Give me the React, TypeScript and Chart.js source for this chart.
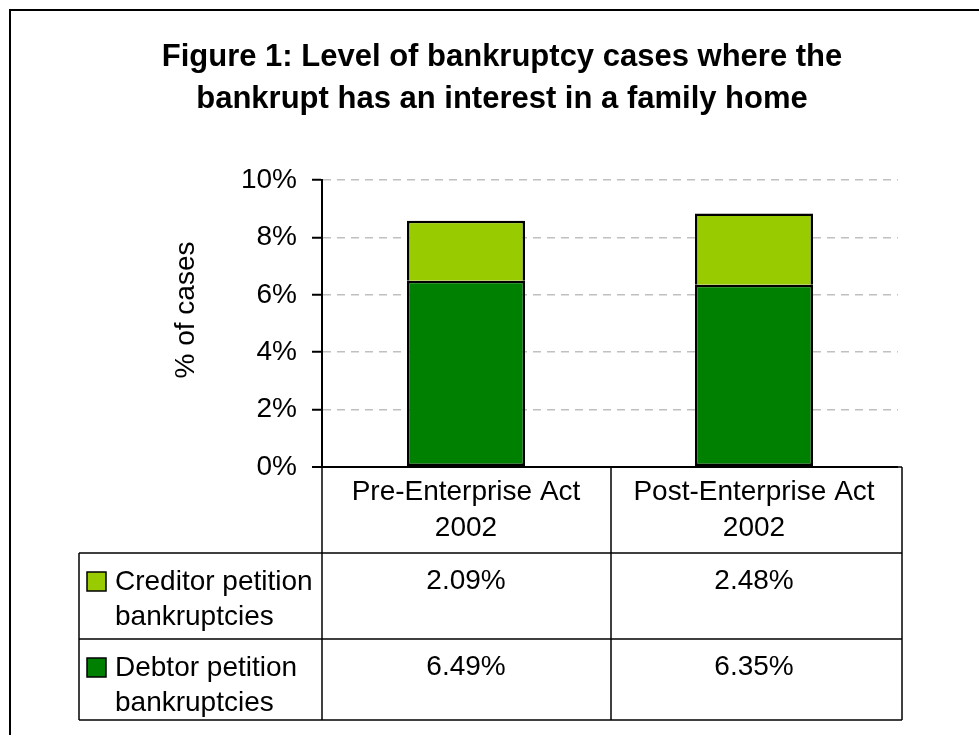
import React, { useEffect, useRef } from "react";
import { Chart, registerables } from "chart.js";

Chart.register(...registerables);

const categories = [
  ["Pre-Enterprise Act", "2002"],
  ["Post-Enterprise Act", "2002"],
];
const creditorName = ["Creditor petition", "bankruptcies"];
const debtorName = ["Debtor petition", "bankruptcies"];
const creditorValues = [2.09, 2.48];
const debtorValues = [6.49, 6.35];
const yMin = 0;
const yMax = 10;
const yStep = 2;
const titleLines = [
  "Figure 1: Level of bankruptcy cases where the",
  "bankrupt has an interest in a family home",
];
const yAxisTitle = "% of cases";

const LIGHT = "#99CC00";
const DARK = "#008000";
const FONT = '"Liberation Sans", Arial, Helvetica, sans-serif';

const tablePlugin = {
  id: "tablePlugin",
  afterDraw(chart: any) {
    const { ctx, chartArea: ca, scales } = chart;
    const x = scales.x;
    const y = scales.y;
    ctx.save();

    // outer frame
    ctx.strokeStyle = "#000";
    ctx.lineWidth = 2;
    ctx.strokeRect(10, 10, 2000, 2000);

    // title
    ctx.fillStyle = "#000";
    ctx.textAlign = "center";
    ctx.textBaseline = "middle";
    ctx.font = `bold 31px ${FONT}`;
    titleLines.forEach((t, i) => ctx.fillText(t, 502, 57 + i * 42));

    // y axis title
    ctx.save();
    ctx.translate(186, 310);
    ctx.rotate(-Math.PI / 2);
    ctx.font = `28px ${FONT}`;
    ctx.fillText(yAxisTitle, 0, 0);
    ctx.restore();

    // data table
    const base = y.getPixelForValue(0);
    const colLeft = 79;
    const c0 = ca.left;
    const c1 = (x.getPixelForValue(0) + x.getPixelForValue(1)) / 2 + 1;
    const c2 = ca.right + 4;
    const r0 = base;
    const r1 = base + 86;
    const r2 = r1 + 86;
    const r3 = r2 + 81;

    ctx.strokeStyle = "#000";
    ctx.lineWidth = 1.5;
    const line = (x1: number, y1: number, x2: number, y2: number) => {
      ctx.beginPath();
      ctx.moveTo(x1, y1);
      ctx.lineTo(x2, y2);
      ctx.stroke();
    };
    line(c0, r0, c0, r3);
    line(c1, r0, c1, r3);
    line(c2, r0, c2, r3);
    line(colLeft, r1, colLeft, r3);
    line(c0, r0, c2, r0);
    line(colLeft, r1, c2, r1);
    line(colLeft, r2, c2, r2);
    line(colLeft, r3, c2, r3);

    ctx.font = `28px ${FONT}`;
    ctx.fillStyle = "#000";
    ctx.textAlign = "center";
    categories.forEach((lines, i) => {
      const cx = x.getPixelForValue(i);
      lines.forEach((l, j) => ctx.fillText(l, cx, r0 + 25 + j * 36));
    });

    const rows = [
      { name: creditorName, values: creditorValues, color: LIGHT, top: r1 },
      { name: debtorName, values: debtorValues, color: DARK, top: r2 },
    ];
    rows.forEach((row) => {
      ctx.textAlign = "center";
      row.values.forEach((v, i) => {
        ctx.fillText(v.toFixed(2) + "%", x.getPixelForValue(i), row.top + 28);
      });
      ctx.fillStyle = row.color;
      ctx.fillRect(87, row.top + 19, 19, 19);
      ctx.strokeStyle = "#000";
      ctx.lineWidth = 1.5;
      ctx.strokeRect(87, row.top + 19, 19, 19);
      ctx.fillStyle = "#000";
      ctx.textAlign = "left";
      row.name.forEach((l, j) => ctx.fillText(l, 115, row.top + 29 + j * 35));
    });

    ctx.restore();
  },
};

export default function App() {
  const ref = useRef<HTMLCanvasElement>(null);

  useEffect(() => {
    if (!ref.current) return;
    const chart = new Chart(ref.current, {
      type: "bar",
      data: {
        labels: categories.map((c) => c.join(" ")),
        datasets: [
          {
            label: debtorName.join(" "),
            data: debtorValues,
            backgroundColor: DARK,
            borderColor: "#000",
            borderWidth: 2.5,
            borderSkipped: false,
          },
          {
            label: creditorName.join(" "),
            data: creditorValues,
            backgroundColor: LIGHT,
            borderColor: "#000",
            borderWidth: 2.5,
            borderSkipped: "start",
          },
        ],
      },
      options: {
        responsive: false,
        animation: false,
        events: [],
        layout: { padding: { left: 0, right: 81, top: 180, bottom: 268 } },
        datasets: {
          bar: { categoryPercentage: 1, barPercentage: 0.41 },
        },
        plugins: {
          legend: { display: false },
          tooltip: { enabled: false },
          title: { display: false },
        },
        scales: {
          x: {
            stacked: true,
            display: false,
          },
          y: {
            stacked: true,
            min: yMin,
            max: yMax,
            afterFit: (scale: any) => {
              scale.width = 322;
            },
            ticks: {
              stepSize: yStep,
              padding: 15,
              color: "#000",
              font: { family: FONT, size: 28 },
              callback: (v: any) => `${v}%`,
            },
            grid: {
              color: (c: any) => (c.tick && c.tick.value === 0 ? "#000" : "#c0c0c0"),
              lineWidth: (c: any) => (c.tick && c.tick.value === 0 ? 2 : 1.5),
              tickColor: "#000",
              tickWidth: 2,
              tickLength: 10,
            },
            border: {
              display: true,
              color: "#000",
              width: 2,
              dash: (c: any) => (c.tick && c.tick.value !== 0 ? [8, 6] : []),
            },
          },
        },
      },
      plugins: [tablePlugin],
    });
    return () => chart.destroy();
  }, []);

  return (
    <div style={{ position: "absolute", left: 0, top: 0, width: 979, height: 735, background: "#fff" }}>
      <canvas ref={ref} width={979} height={735} />
    </div>
  );
}
